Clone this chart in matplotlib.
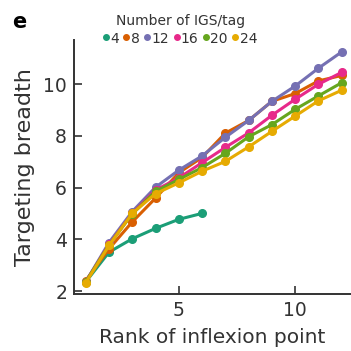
import matplotlib
matplotlib.use("Agg")
import matplotlib.pyplot as plt

# values
ranks = list(range(1, 13))
igs_4 = [2.35, 3.50, 4.02, 4.42, 4.77, 5.00]
igs_8 = [2.40, 3.63, 4.67, 5.59, 6.57, 7.16, 8.10, 8.59, 9.33, 9.63, 10.12, 10.33]
igs_12 = [2.35, 3.87, 5.07, 6.01, 6.67, 7.22, 7.94, 8.59, 9.33, 9.92, 10.61, 11.24]
igs_16 = [2.35, 3.80, 5.00, 5.90, 6.37, 6.96, 7.55, 8.11, 8.79, 9.41, 9.99, 10.45]
igs_20 = [2.35, 3.78, 4.98, 5.85, 6.31, 6.77, 7.32, 7.96, 8.43, 9.02, 9.54, 10.05]
igs_24 = [2.32, 3.76, 5.00, 5.76, 6.18, 6.63, 7.01, 7.57, 8.17, 8.76, 9.35, 9.76]

labels = ["4", "8", "12", "16", "20", "24"]
series = [igs_4, igs_8, igs_12, igs_16, igs_20, igs_24]
colors = ["#1b9e77", "#d95f02", "#7570b3", "#e7298a", "#66a61e", "#e6ab02"]
grey = "#333333"

fig = plt.figure(figsize=(3.51, 3.51), dpi=100)
ax = fig.add_axes([0.211, 0.162, 0.789, 0.724])

for lab, vals, c in zip(labels, series, colors):
    ax.plot(ranks[:len(vals)], vals, color=c, lw=2.2, marker="o", ms=5.5, label=lab)

ax.set_xlim(0.5, 12.4)
ax.set_ylim(1.88, 11.7)
ax.set_xticks([5, 10])
ax.set_yticks([2, 4, 6, 8, 10])
ax.spines["top"].set_visible(False)
ax.spines["right"].set_visible(False)
for s in ["left", "bottom"]:
    ax.spines[s].set_linewidth(1.4)
    ax.spines[s].set_color(grey)
ax.tick_params(direction="in", labelsize=13.5, length=6, width=1.2, pad=5,
               colors=grey, labelcolor=grey)
ax.set_xlabel("Rank of inflexion point", fontsize=14.5, color=grey, labelpad=6)
ax.set_ylabel("Targeting breadth", fontsize=16, color=grey, labelpad=6)

handles = [plt.Line2D([], [], ls="", marker="o", ms=4, color=c) for c in colors]
leg = fig.legend(handles, labels, title="Number of IGS/tag", loc="upper center",
                 bbox_to_anchor=(0.513, 0.992), ncol=6, frameon=False, fontsize=10,
                 title_fontsize=10, handlelength=0.4, handletextpad=0.1,
                 handleheight=1.2, columnspacing=0.35, borderpad=0.3, labelspacing=0.2)
for t in leg.get_texts():
    t.set_color(grey)
leg.get_title().set_color(grey)

fig.text(0.034, 0.92, "e", fontsize=15, fontweight="bold")

fig.savefig("out.png", dpi=100)
